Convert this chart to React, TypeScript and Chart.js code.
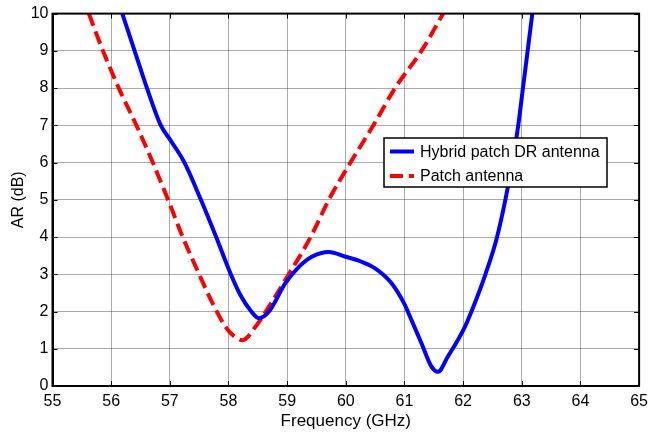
import React, { useEffect, useRef } from "react";
import { Chart, registerables } from "chart.js";

Chart.register(...registerables);

const hybridLabel = "Hybrid patch DR antenna";
const hybridFreq = [56.19, 56.4, 56.61, 56.84, 57.02, 57.25, 57.53, 57.79, 58.04, 58.2, 58.38, 58.52, 58.69, 58.97, 59.2, 59.42, 59.71, 60.0, 60.25, 60.5, 60.78, 61.0, 61.12, 61.29, 61.46, 61.57, 61.74, 62.03, 62.22, 62.38, 62.57, 62.72, 62.84, 62.94, 63.02, 63.1, 63.18];
const hybridAR = [10, 9, 8, 7.02, 6.58, 6, 5, 4, 3, 2.45, 2.02, 1.82, 2.0, 2.76, 3.2, 3.47, 3.6, 3.47, 3.35, 3.16, 2.76, 2.2, 1.77, 1.15, 0.52, 0.38, 0.79, 1.59, 2.31, 3, 3.95, 5, 6, 7, 8, 9, 10];

const patchLabel = "Patch antenna";
const patchFreq = [55.62, 55.86, 56.13, 56.43, 56.71, 56.97, 57.22, 57.5, 57.73, 57.95, 58.1, 58.24, 58.46, 58.69, 58.97, 59.4, 59.71, 60.08, 60.47, 60.84, 61.29, 61.66];
const patchAR = [10, 9, 8, 7, 6, 5, 4, 3, 2.22, 1.59, 1.33, 1.23, 1.59, 2.13, 2.85, 4, 5, 6, 7, 8, 9, 10];

const xTitle = "Frequency (GHz)";
const yTitle = "AR (dB)";
const xMin = 55, xMax = 65, yMin = 0, yMax = 10;

const FONT = '"Liberation Sans", Arial, sans-serif';

const frameLegendPlugin = {
  id: "frameLegend",
  afterDatasetsDraw(chart: any) {
    const { ctx, chartArea: a, scales } = chart;
    ctx.save();
    ctx.strokeStyle = "#000";
    ctx.lineWidth = 1;
    const xs = scales.x, ys = scales.y;
    for (let v = xMin; v <= xMax; v += 1) {
      const px = Math.round(xs.getPixelForValue(v)) + 0.5;
      ctx.beginPath();
      ctx.moveTo(px, a.bottom); ctx.lineTo(px, a.bottom - 5);
      ctx.moveTo(px, a.top); ctx.lineTo(px, a.top + 5);
      ctx.stroke();
    }
    for (let v = yMin; v <= yMax; v += 1) {
      const py = Math.round(ys.getPixelForValue(v)) + 0.5;
      ctx.beginPath();
      ctx.moveTo(a.left, py); ctx.lineTo(a.left + 5, py);
      ctx.moveTo(a.right, py); ctx.lineTo(a.right - 5, py);
      ctx.stroke();
    }
    ctx.lineWidth = 2;
    ctx.strokeRect(a.left, a.top, a.right - a.left, a.bottom - a.top);

    const lx = 384, ly = 138, lw = 223, lh = 49;
    ctx.fillStyle = "#fff";
    ctx.fillRect(lx, ly, lw, lh);
    ctx.lineWidth = 1.5;
    ctx.strokeStyle = "#000";
    ctx.strokeRect(lx, ly, lw, lh);
    const ds = chart.data.datasets;
    const rows = [151.5, 176];
    ds.forEach((d: any, i: number) => {
      const y = rows[i];
      ctx.beginPath();
      ctx.strokeStyle = d.borderColor;
      ctx.lineWidth = 4;
      ctx.setLineDash(d.borderDash || []);
      ctx.moveTo(390, y); ctx.lineTo(414, y);
      ctx.stroke();
      ctx.setLineDash([]);
      ctx.fillStyle = "#000";
      ctx.font = "16px " + FONT;
      ctx.textBaseline = "middle";
      ctx.textAlign = "left";
      ctx.fillText(d.label, 420, y + 1);
    });
    ctx.restore();
  },
};

export default function App() {
  const ref = useRef<HTMLCanvasElement>(null);
  useEffect(() => {
    document.body.style.margin = "0";
    const canvas = ref.current!;
    const chart = new Chart(canvas, {
      type: "line",
      data: {
        datasets: [
          {
            label: hybridLabel,
            data: hybridFreq.map((f, i) => ({ x: f, y: hybridAR[i] })),
            borderColor: "#0000ff",
            borderWidth: 4,
            pointRadius: 0,
            cubicInterpolationMode: "monotone",
            fill: false,
          },
          {
            label: patchLabel,
            data: patchFreq.map((f, i) => ({ x: f, y: patchAR[i] })),
            borderColor: "#ff0000",
            borderWidth: 4,
            borderDash: [13, 6],
            pointRadius: 0,
            cubicInterpolationMode: "monotone",
            fill: false,
          },
        ],
      },
      options: {
        responsive: false,
        devicePixelRatio: 1,
        animation: false,
        layout: { padding: { top: 13, right: 12, left: 0, bottom: 0 } },
        plugins: { legend: { display: false }, tooltip: { enabled: false } },
        scales: {
          x: {
            type: "linear",
            min: xMin,
            max: xMax,
            afterFit: (s: any) => { s.height = 46; },
            ticks: { stepSize: 1, color: "#000", font: { family: FONT, size: 16 }, padding: 6, maxRotation: 0 },
            grid: { color: "rgba(0,0,0,0.33)", lineWidth: 1, drawTicks: false },
            border: { display: true, color: "#000", width: 2 },
            title: { display: true, text: xTitle, color: "#000", font: { family: FONT, size: 17 }, padding: { top: 0, bottom: 0 } },
          },
          y: {
            type: "linear",
            min: yMin,
            max: yMax,
            afterFit: (s: any) => { s.width = 52.5; },
            ticks: { stepSize: 1, color: "#000", font: { family: FONT, size: 16 }, padding: 4 },
            grid: { color: "rgba(0,0,0,0.33)", lineWidth: 1, drawTicks: false },
            border: { display: true, color: "#000", width: 2 },
            title: { display: true, text: yTitle, color: "#000", font: { family: FONT, size: 16 }, padding: { top: 9, bottom: 0 } },
          },
        },
      },
      plugins: [frameLegendPlugin],
    } as any);
    return () => chart.destroy();
  }, []);
  return (
    <div style={{ position: "absolute", left: 0, top: 0, width: 654, height: 432, background: "#fff" }}>
      <canvas ref={ref} width={654} height={432} style={{ width: 654, height: 432, display: "block" }} />
    </div>
  );
}
